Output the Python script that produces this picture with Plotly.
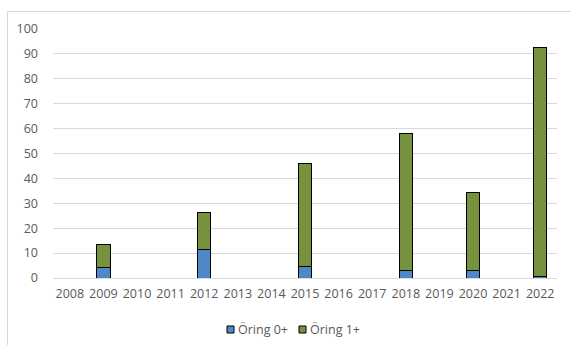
import plotly.graph_objects as go

years = [str(y) for y in range(2008, 2023)]
oring_0 = [None, 4.4, None, None, 11.6, None, None, 4.6, None, None, 3.1, None, 3.1, None, 0.8]
oring_1 = [None, 9.0, None, None, 14.7, None, None, 41.4, None, None, 55.1, None, 31.2, None, 91.7]
y_ticks = list(range(0, 101, 10))
series_names = ["Öring 0+", "Öring 1+"]
series_colors = ["#4F87C9", "#76923C"]

font_family = "Open Sans, DejaVu Sans, sans-serif"
text_color = "#595959"

fig = go.Figure()
for name, vals, col in zip(series_names, [oring_0, oring_1], series_colors):
    fig.add_trace(go.Bar(
        x=years, y=vals, name=name, showlegend=False,
        marker=dict(color=col, line=dict(color="#000000", width=1)),
    ))

W, H = 571, 345
ml, mr, mt, mb = 53, 14, 29, 67
pw = W - ml - mr
ph = H - mt - mb


def px_x(x):
    return (x - ml) / pw


def px_y(y):
    return (H - mb - y) / ph


fig.update_layout(
    width=W, height=H,
    barmode="stack",
    bargap=0.6,
    margin=dict(l=ml, r=mr, t=mt, b=mb, autoexpand=False),
    paper_bgcolor="white",
    plot_bgcolor="white",
    font=dict(family=font_family, size=12.5, color=text_color),
    showlegend=False,
    xaxis=dict(
        type="category", categoryorder="array", categoryarray=years,
        showgrid=False, showline=False, ticks="", zeroline=False,
        ticklabelstandoff=6,
        tickfont=dict(size=12.5, color=text_color),
    ),
    yaxis=dict(
        range=[0, 100], tickvals=y_ticks, showgrid=True,
        gridcolor="#D9D9D9", gridwidth=1.3, zeroline=True,
        zerolinecolor="#D9D9D9", zerolinewidth=1.3, showline=False,
        ticks="", ticklabelstandoff=14,
        tickfont=dict(size=12.5, color=text_color),
    ),
)

# chart-area border (continues past the right and bottom edges)
fig.add_shape(type="rect", xref="paper", yref="paper",
              x0=px_x(7.5), x1=px_x(W + 20), y0=px_y(H + 20), y1=px_y(11.5),
              line=dict(color="#D9D9D9", width=1), fillcolor="rgba(0,0,0,0)",
              layer="below")

# legend: small bordered squares followed by the series names
legend_y = 329.5
legend_items = [(227, "Öring 0+"), (299, "Öring 1+")]
for (lx, label), col in zip(legend_items, series_colors):
    fig.add_shape(type="rect", xref="paper", yref="paper",
                  x0=px_x(lx), x1=px_x(lx + 7),
                  y0=px_y(legend_y + 3.5), y1=px_y(legend_y - 3.5),
                  line=dict(color="#000000", width=1), fillcolor=col)
    fig.add_annotation(xref="paper", yref="paper",
                       x=px_x(lx + 8.5), y=px_y(legend_y),
                       xanchor="left", yanchor="middle", showarrow=False,
                       text=label, font=dict(size=12.5, color=text_color))

fig.write_html("out.html")
